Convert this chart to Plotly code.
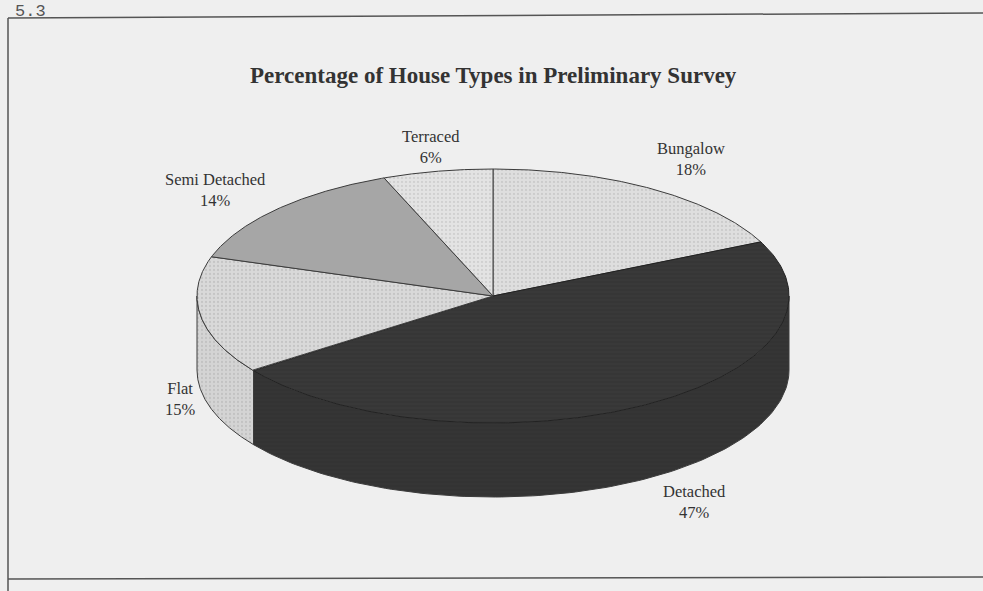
import numpy as np
import plotly.graph_objects as go

# ---- data ----
categories = ["Bungalow", "Detached", "Flat", "Semi Detached", "Terraced"]
percentages = [18, 47, 15, 14, 6]
title_text = "Percentage of House Types in Preliminary Survey"

# ---- styles ----
top_colors = {"Bungalow": "#dedede", "Detached": "#393939", "Flat": "#d9d9d9",
              "Semi Detached": "#a6a6a6", "Terraced": "#e3e3e3"}
side_colors = {"Bungalow": "#d0d0d0", "Detached": "#353535", "Flat": "#d4d4d4",
               "Semi Detached": "#999999", "Terraced": "#d8d8d8"}
patterns = {"Bungalow": ".", "Detached": "-", "Flat": ".", "Semi Detached": "", "Terraced": "."}
pattern_fg = {"Bungalow": "#b8b8b8", "Detached": "#2c2c2c", "Flat": "#b0b0b0",
              "Semi Detached": "#999999", "Terraced": "#bcbcbc"}
edge_color = "#3c3c3c"
bg = "#efefef"

# geometry of the tilted pie (pixel space)
CX, CY, A, B, DEPTH = 493, 296, 296, 127, 74
START = 90.0
W, H = 983, 591

# label placement (pixel space, per category)
label_pos = {"Bungalow": (691, 159), "Detached": (694, 502), "Flat": (180, 399),
             "Semi Detached": (215, 190), "Terraced": (431, 147)}


def ellipse(theta_deg, dy=0.0):
    t = np.radians(theta_deg)
    return CX + A * np.cos(t), CY - B * np.sin(t) + dy


fig = go.Figure()

# compute slice angles (clockwise from 12 o'clock)
total = float(sum(percentages))
slices = []
cum = 0.0
for cat, p in zip(categories, percentages):
    t1 = START - cum / total * 360.0
    t2 = t1 - p / total * 360.0
    slices.append((cat, p, t1, t2))
    cum += p

# side faces (only front half visible: angles in (-180, 0) mod 360)
for cat, p, t1, t2 in slices:
    lo, hi = t2, t1
    for k in (-1, 0, 1):
        a_lo = max(lo, -180 + 360 * k)
        a_hi = min(hi, 0 + 360 * k)
        if a_hi - a_lo <= 0.01:
            continue
        th = np.linspace(a_hi, a_lo, 120)
        xt, yt = ellipse(th)
        xb, yb = ellipse(th[::-1], DEPTH)
        xs = np.concatenate([xt, xb, xt[:1]])
        ys = np.concatenate([yt, yb, yt[:1]])
        fp = dict(shape=patterns[cat], fgcolor=pattern_fg[cat], bgcolor=side_colors[cat],
                  size=4, solidity=0.25) if patterns[cat] else None
        fig.add_trace(go.Scatter(
            x=xs, y=ys, mode="lines", fill="toself", fillcolor=side_colors[cat],
            fillpattern=fp,
            line=dict(color=edge_color, width=1), hoverinfo="skip", showlegend=False))

# top faces
for cat, p, t1, t2 in slices:
    th = np.linspace(t1, t2, 200)
    xa, ya = ellipse(th)
    xs = np.concatenate([[CX], xa, [CX]])
    ys = np.concatenate([[CY], ya, [CY]])
    fp = dict(shape=patterns[cat], fgcolor=pattern_fg[cat], bgcolor=top_colors[cat],
              size=4, solidity=0.25) if patterns[cat] else None
    fig.add_trace(go.Scatter(
        x=xs, y=ys, mode="lines", fill="toself", fillcolor=top_colors[cat],
        fillpattern=fp,
        line=dict(color=edge_color if cat != "Detached" else "#222222", width=1),
        hoverinfo="skip", showlegend=False, name=cat))

annotations = []
for cat, p, t1, t2 in slices:
    lx, ly = label_pos[cat]
    annotations.append(dict(
        x=lx, y=ly, xref="x", yref="y", showarrow=False,
        text=f"{cat}<br>{p}%", align="center",
        font=dict(family="Liberation Serif", size=16.5, color="#333333")))

annotations.append(dict(
    x=CX, y=75, xref="x", yref="y", showarrow=False, text=f"<b>{title_text}</b>",
    font=dict(family="Liberation Serif", size=23, color="#333333")))
annotations.append(dict(
    x=14, y=0.5, xref="x", yref="y", showarrow=False, text="5.3",
    xanchor="left", yanchor="top", borderpad=0,
    font=dict(family="Liberation Mono", size=17, color="#555555")))

shapes = [
    dict(type="line", xref="x", yref="y", x0=8, y0=18, x1=983, y1=13,
         line=dict(color="#555555", width=1.5)),
    dict(type="line", xref="x", yref="y", x0=8, y0=18, x1=8, y1=591,
         line=dict(color="#555555", width=1.5)),
    dict(type="line", xref="x", yref="y", x0=8, y0=579, x1=983, y1=577,
         line=dict(color="#555555", width=1.5)),
]

fig.update_layout(
    width=W, height=H, margin=dict(l=0, r=0, t=0, b=0),
    paper_bgcolor=bg, plot_bgcolor=bg,
    xaxis=dict(range=[0, W], visible=False, fixedrange=True),
    yaxis=dict(range=[H, 0], visible=False, fixedrange=True),
    annotations=annotations, shapes=shapes, showlegend=False,
)

fig.write_html("out.html")
